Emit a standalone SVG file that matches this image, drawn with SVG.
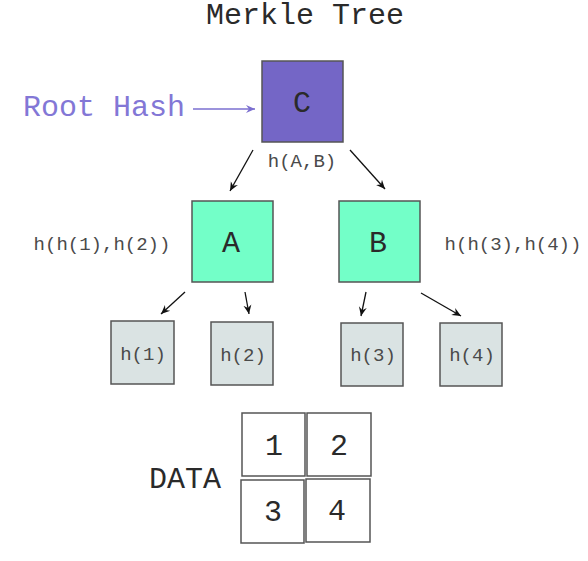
<svg xmlns="http://www.w3.org/2000/svg" width="588" height="561" viewBox="0 0 588 561">
<style>
text{font-family:"Liberation Mono","Courier New",monospace;text-anchor:middle}
.big{font-size:30px;fill:#2a2a2a}
.sm{font-size:19px;fill:#4a4a4a}
.box{stroke:#555;stroke-width:1.5}
.conn line{stroke:#111;stroke-width:1.3}
</style>
<defs>
<marker id="ah" markerWidth="10" markerHeight="10" refX="9" refY="5" orient="auto" markerUnits="userSpaceOnUse">
<path d="M0,1 L9,5 L0,9 L3,5 Z" fill="#111"/>
</marker>
<marker id="ahp" markerWidth="10" markerHeight="10" refX="9" refY="5" orient="auto" markerUnits="userSpaceOnUse">
<path d="M0,1 L9,5 L0,9 L3,5 Z" fill="#7b6fd0"/>
</marker>
</defs>
<text class="big" x="305" y="24">Merkle Tree</text>
<g id="roothash">
<text x="104" y="116" style="font-size:30px;fill:#8377d6">Root Hash</text>
</g>
<g id="C">
<rect class="box" x="262" y="61" width="81" height="81" fill="#7466c6"/>
<text class="big" x="302" y="112">C</text>
</g>
<text class="sm" x="302" y="167">h(A,B)</text>
<g id="A">
<rect class="box" x="192" y="201" width="81" height="81" fill="#73ffc8"/>
<text class="big" x="231" y="252">A</text>
</g>
<g id="B">
<rect class="box" x="339" y="201" width="81" height="81" fill="#73ffc8"/>
<text class="big" x="378" y="252">B</text>
</g>
<text class="sm" x="102" y="250">h(h(1),h(2))</text>
<text class="sm" x="513" y="250">h(h(3),h(4))</text>
<g id="h1"><rect class="box" x="111" y="321" width="63" height="63" fill="#dae3e3"/><text class="sm" x="143" y="360">h(1)</text></g>
<g id="h2"><rect class="box" x="211" y="322" width="62" height="63" fill="#dae3e3"/><text class="sm" x="243" y="361">h(2)</text></g>
<g id="h3"><rect class="box" x="341" y="323" width="62" height="63" fill="#dae3e3"/><text class="sm" x="373" y="361">h(3)</text></g>
<g id="h4"><rect class="box" x="440" y="323" width="62" height="63" fill="#dae3e3"/><text class="sm" x="472" y="361">h(4)</text></g>
<text class="big" x="185" y="488">DATA</text>
<g id="d1"><rect class="box" x="242" y="413" width="63" height="63" fill="#fff"/><text class="big" x="274" y="455">1</text></g>
<g id="d2"><rect class="box" x="307" y="413" width="64" height="63" fill="#fff"/><text class="big" x="339" y="455">2</text></g>
<g id="d3"><rect class="box" x="241" y="480" width="63" height="63" fill="#fff"/><text class="big" x="273" y="521">3</text></g>
<g id="d4"><rect class="box" x="306" y="479" width="64" height="63" fill="#fff"/><text class="big" x="337" y="520">4</text></g>
<g class="conn" id="connectors">
<line x1="193" y1="109" x2="255" y2="109" style="stroke:#7b6fd0" marker-end="url(#ahp)"/>
<line x1="253" y1="150" x2="230" y2="191" marker-end="url(#ah)"/>
<line x1="350" y1="150" x2="385" y2="189" marker-end="url(#ah)"/>
<line x1="185" y1="292" x2="161" y2="314" marker-end="url(#ah)"/>
<line x1="245" y1="292" x2="249" y2="314" marker-end="url(#ah)"/>
<line x1="366" y1="292" x2="361" y2="316" marker-end="url(#ah)"/>
<line x1="421" y1="293" x2="461" y2="316" marker-end="url(#ah)"/>
</g>
</svg>
